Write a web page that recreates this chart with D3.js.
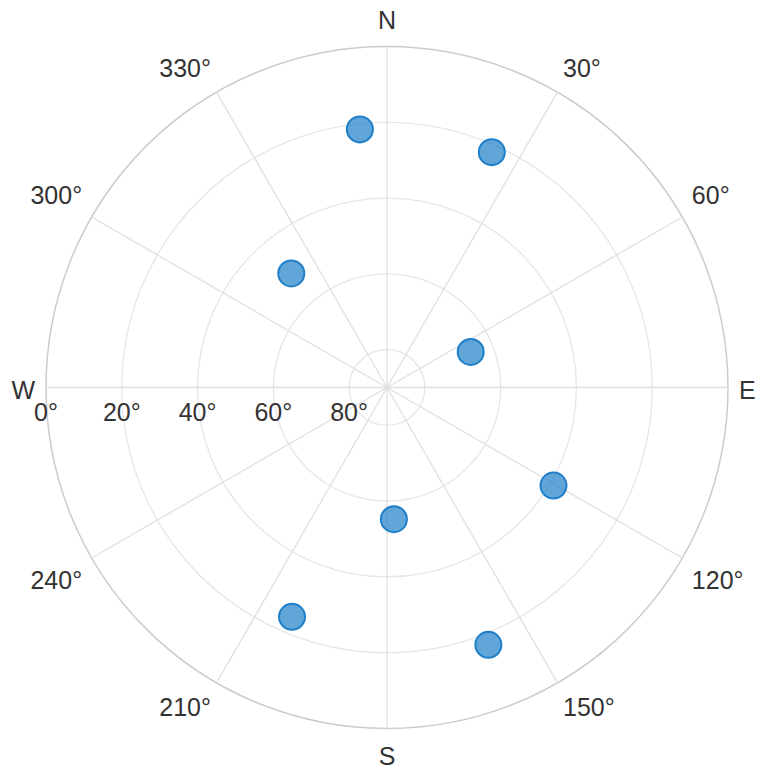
<!DOCTYPE html>
<html>
<head>
<meta charset="utf-8">
<script src="https://cdn.jsdelivr.net/npm/d3@7"></script>
<style>
  html, body { margin: 0; padding: 0; background: #fff; }
  svg { display: block; }
  text { font-family: "Liberation Sans", Arial, sans-serif; fill: #333; }
</style>
</head>
<body>
<svg id="chart" width="757" height="768"></svg>
<script>
// Data: azimuth (deg, clockwise from N) and elevation (deg)
const azimuth   = [354, 24, 320, 67, 120.5, 177, 202.5, 158.5];
const elevation = [21.5, 22, 50.7, 66, 39, 55.2, 24.5, 17];

const angleTicks = [0, 30, 60, 90, 120, 150, 180, 210, 240, 270, 300, 330];
const angleLabels = ["N", "30°", "60°", "E", "120°", "150°", "S", "210°", "240°", "W", "300°", "330°"];
const elevTicks = [0, 20, 40, 60, 80];
const elevLabels = ["0°", "20°", "40°", "60°", "80°"];

const W = 757, H = 768;
const cx = 387, cy = 387.5, R = 341;

const svg = d3.select("#chart");
const g = svg.append("g").attr("transform", `translate(${cx},${cy})`);

const rScale = d3.scaleLinear().domain([90, 0]).range([0, R]);
const aScale = d3.scaleLinear().domain([0, 360]).range([0, 2 * Math.PI]);

// Rings
g.selectAll("circle.ring")
  .data(elevTicks)
  .enter().append("circle")
  .attr("class", "ring")
  .attr("r", d => rScale(d))
  .attr("fill", "none")
  .attr("stroke", d => d === 0 ? "#cccccc" : "#e6e6e6")
  .attr("stroke-width", d => d === 0 ? 1.5 : 1.3);

// Spokes
g.selectAll("line.spoke")
  .data(angleTicks)
  .enter().append("line")
  .attr("class", "spoke")
  .attr("x1", 0).attr("y1", 0)
  .attr("x2", d => rScale(0) * Math.sin(aScale(d)))
  .attr("y2", d => -rScale(0) * Math.cos(aScale(d)))
  .attr("stroke", "#e0e0e0")
  .attr("stroke-width", 1.3);

// Angular labels
const rx = rScale(0) + 11;
const ry = rScale(0) + 18;
g.selectAll("text.alab")
  .data(angleTicks)
  .enter().append("text")
  .attr("class", "alab")
  .attr("font-size", 25)
  .attr("dominant-baseline", "central")
  .attr("text-anchor", d => {
    const s = Math.sin(aScale(d));
    return s > 0.1 ? "start" : (s < -0.1 ? "end" : "middle");
  })
  .attr("x", d => rx * Math.sin(aScale(d)))
  .attr("y", d => {
    const c = Math.cos(aScale(d));
    let off;
    if (Math.abs(c) < 0.1) off = 2;
    else off = -Math.sign(c) * (Math.abs(c) < 0.6 ? 13 : 9);
    return -ry * c + off;
  })
  .text((d, i) => angleLabels[i]);

// Radial labels along W axis
g.selectAll("text.rlab")
  .data(elevTicks)
  .enter().append("text")
  .attr("class", "rlab")
  .attr("font-size", 25)
  .attr("text-anchor", "middle")
  .attr("x", d => -rScale(d))
  .attr("y", 33)
  .text((d, i) => elevLabels[i]);

// Points
g.selectAll("circle.pt")
  .data(azimuth.map((a, i) => ({ a, e: elevation[i] })))
  .enter().append("circle")
  .attr("class", "pt")
  .attr("cx", d => rScale(d.e) * Math.sin(aScale(d.a)))
  .attr("cy", d => -rScale(d.e) * Math.cos(aScale(d.a)))
  .attr("r", 13)
  .attr("fill", "#1f7fc8")
  .attr("fill-opacity", 0.7)
  .attr("stroke", "#1f7fc8")
  .attr("stroke-width", 2);
</script>
</body>
</html>
